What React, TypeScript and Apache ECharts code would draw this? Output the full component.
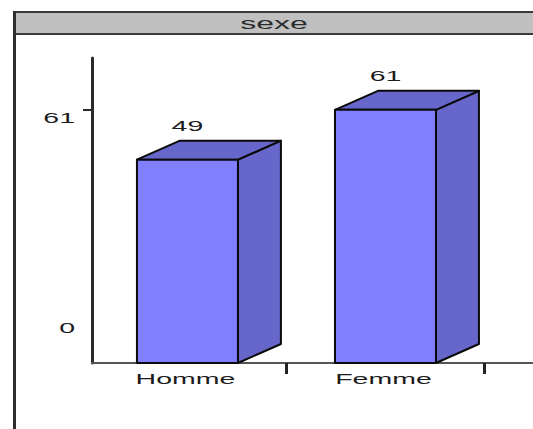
import React, { useEffect, useRef } from "react";
import * as echarts from "echarts";

// Counts per sex
const categories = ["Homme", "Femme"];
const counts = [49, 61];
// Values shown on the vertical axis
const yTicks = [0, 61];
const title = "sexe";

const FONT = "'Liberation Sans', Arial, sans-serif";
const TEXT_COLOR = "#1c1c1c";
const STRETCH = 1.9;
const X_MIN = -0.482;
const X_MAX = 1.745;
const Y_MAX = 73.5;

export default function App() {
  const ref = useRef<HTMLDivElement>(null);

  useEffect(() => {
    if (!ref.current) return;
    const chart = echarts.init(ref.current, null, { renderer: "svg" });

    const stretchedText = (x: number, y: number, text: string, align: string) => ({
      type: "text",
      x,
      y,
      scaleX: STRETCH,
      style: {
        text,
        fontSize: 15,
        fontFamily: FONT,
        fill: TEXT_COLOR,
        align,
        verticalAlign: "middle",
      },
    });

    const option: any = {
      animation: false,
      backgroundColor: "#ffffff",
      grid: { left: 92, right: 0, top: 58, bottom: 66 },
      xAxis: {
        type: "value",
        min: X_MIN,
        max: X_MAX,
        splitLine: { show: false },
        axisLine: { show: true, onZero: false, lineStyle: { color: "#555", width: 2 } },
        axisTick: {
          show: true,
          customValues: categories.map((_, i) => i + 0.5),
          length: 11,
          lineStyle: { color: "#222", width: 3 },
        },
        axisLabel: { show: false },
      },
      yAxis: {
        type: "value",
        min: 0,
        max: Y_MAX,
        splitLine: { show: false },
        axisLine: { show: true, onZero: false, lineStyle: { color: "#2a2a2a", width: 3 } },
        axisTick: {
          show: true,
          customValues: yTicks.filter((v) => v !== 0),
          length: 9,
          lineStyle: { color: "#2a2a2a", width: 2 },
        },
        axisLabel: { show: false },
      },
      graphic: [
        {
          type: "rect",
          shape: { x: 14, y: 12, width: 530, height: 22 },
          style: { fill: "#c0c0c0", stroke: "#3a3a3a", lineWidth: 2 },
        },
        {
          type: "line",
          shape: { x1: 14.5, y1: 11, x2: 14.5, y2: 429 },
          style: { stroke: "#2e2e2e", lineWidth: 3 },
        },
        {
          type: "text",
          x: 274,
          y: 23,
          scaleX: 2.0,
          style: {
            text: title,
            fontSize: 16,
            fontFamily: FONT,
            fill: "#2a2a2a",
            align: "center",
            verticalAlign: "middle",
          },
        },
      ],
      series: [
        {
          type: "custom",
          clip: false,
          data: counts.map((v, i) => [i, v]),
          renderItem: (params: any, api: any) => {
            const xi = api.value(0);
            const v = api.value(1);
            const top = api.coord([xi, v]);
            const base = api.coord([xi, 0]);
            const unit = api.size([1, 0])[0];
            const w = unit * 0.51;
            const dx = unit * 0.217;
            const dy = -19;
            const x0 = top[0] - w / 2;
            const x1 = top[0] + w / 2;
            const edge = { stroke: "#0a0a0a", lineWidth: 2, lineJoin: "round" };
            return {
              type: "group",
              children: [
                {
                  type: "polygon",
                  shape: {
                    points: [
                      [x1, top[1]],
                      [x1 + dx, top[1] + dy],
                      [x1 + dx, base[1] + dy],
                      [x1, base[1]],
                    ],
                  },
                  style: { fill: "#6767cb", ...edge },
                },
                {
                  type: "polygon",
                  shape: {
                    points: [
                      [x0, top[1]],
                      [x0 + dx, top[1] + dy],
                      [x1 + dx, top[1] + dy],
                      [x1, top[1]],
                    ],
                  },
                  style: { fill: "#6767cb", ...edge },
                },
                {
                  type: "rect",
                  shape: { x: x0, y: top[1], width: w, height: base[1] - top[1] },
                  style: { fill: "#8080ff", ...edge },
                },
                stretchedText(top[0], top[1] - 34, String(v), "center"),
                stretchedText(top[0] - 2, base[1] + 16, categories[params.dataIndex], "center"),
              ],
            };
          },
        },
        {
          type: "custom",
          clip: false,
          silent: true,
          data: yTicks.map((v) => [X_MIN, v]),
          renderItem: (params: any, api: any) => {
            const v = api.value(1);
            const p = api.coord([X_MIN, v]);
            const dy = v === 0 ? -35 : 8;
            return stretchedText(p[0] - 17, p[1] + dy, String(v), "right");
          },
        },
      ],
    };

    chart.setOption(option);
    return () => chart.dispose();
  }, []);

  return (
    <div
      ref={ref}
      style={{ position: "fixed", left: 0, top: 0, width: 533, height: 429 }}
    />
  );
}
